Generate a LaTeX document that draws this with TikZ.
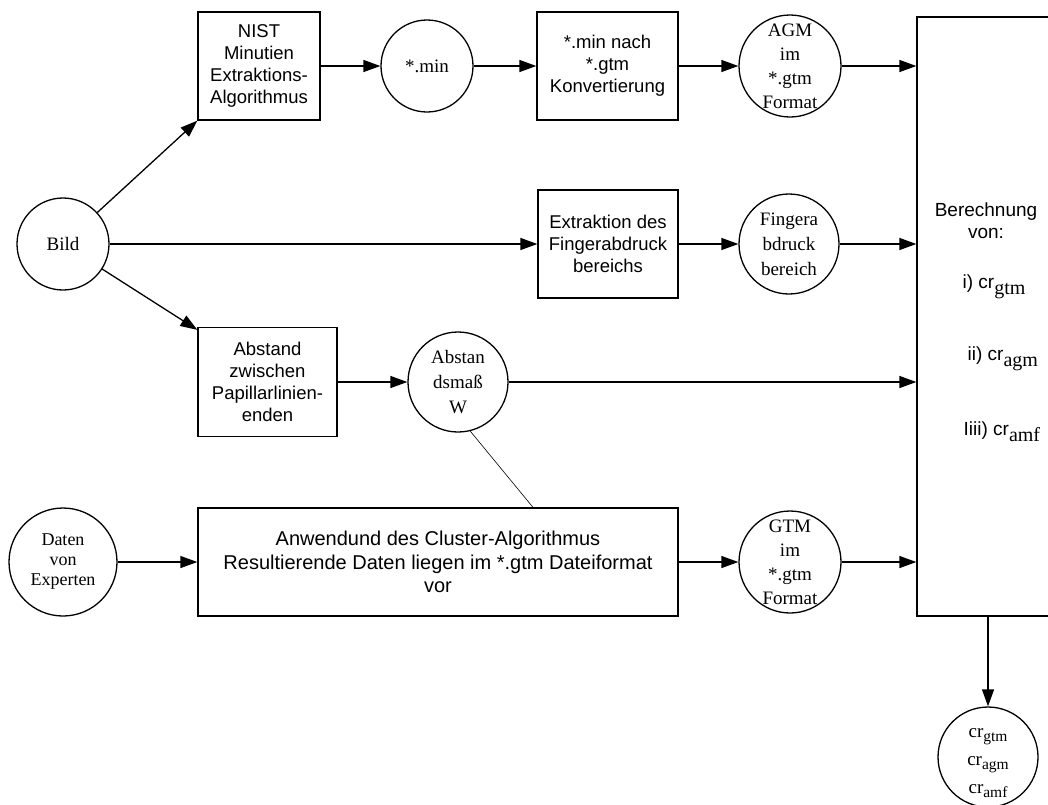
\documentclass[tikz,border=0pt]{standalone}
\usepackage{fontspec}
\setmainfont{Liberation Serif}
\setsansfont{Liberation Sans}
\usetikzlibrary{arrows.meta,calc}

% lowered serif subscripts used in the cr_xxx labels
\newcommand{\lowsub}[1]{\raisebox{-6pt}{\rmfamily\fontsize{20}{20}\selectfont #1}}
\newcommand{\smallsub}[1]{\raisebox{-4pt}{\rmfamily\fontsize{15.5}{15.5}\selectfont #1}}

\begin{document}
\begin{tikzpicture}[x=1pt,y=-1pt,
  line width=1.3pt,
  procbox/.style={draw, rectangle, inner sep=0pt, align=center,
    font=\sffamily\fontsize{18.5}{22}\selectfont},
  disc/.style={draw, circle, inner sep=0pt, minimum size=#1},
  disctext/.style={align=center, inner sep=0pt, font=\rmfamily\fontsize{19}{24}\selectfont},
  sidetext/.style={inner sep=0pt, font=\sffamily\fontsize{19}{22}\selectfont},
  arr/.style={-{Triangle[length=17pt,width=12pt]}},
  link/.style={line width=0.6pt}
]
\useasboundingbox (0,0) rectangle (1048,804);
\clip (0,0) rectangle (1048,804);

% sources
\node[disc=92pt, font=\rmfamily\fontsize{19}{23}\selectfont] (bild) at (63,244) {Bild};
\node[disc=108pt, label={[disctext, font=\rmfamily\fontsize{18}{20}\selectfont]center:{Daten\\von\\Experten}}] (daten) at (63,562) {};

% upper chain: minutiae extraction
\node[procbox, minimum width=122pt, minimum height=108pt] (nist) at (259,66) {NIST\\Minutien\\Extraktions-\\Algorithmus};
\node[disc=92pt, font=\rmfamily\fontsize{19}{23}\selectfont] (min) at (427,66) {*.min};
\node[procbox, minimum width=141pt, minimum height=108pt] (conv) at (607.5,66) {*.min nach\\*.gtm\\Konvertierung};
\node[disc=102pt, label={[disctext]center:{AGM\\im\\*.gtm\\Format}}] (agm) at (790,66) {};

% middle chain: fingerprint area
\node[procbox, minimum width=140pt, minimum height=108pt] (extr) at (608,244) {Extraktion des\\Fingerabdruck\\bereichs};
\node[disc=100pt, label={[disctext, font=\rmfamily\fontsize{19}{25}\selectfont]center:{Fingera\\bdruck\\bereich}}] (finger) at (789,244) {};

% ridge ending distance
\node[procbox, minimum width=139pt, minimum height=109pt] (abst) at (267.5,382) {Abstand\\zwischen\\Papillarlinien-\\enden};
\node[disc=100pt, label={[disctext, font=\rmfamily\fontsize{19}{25}\selectfont]center:{Abstan\\dsmaß\\W}}] (abm) at (458,382) {};

% expert data clustering
\node[procbox, minimum width=480pt, minimum height=108pt, font=\sffamily\fontsize{20}{23.5}\selectfont] (clus) at (438,562)
  {Anwendund des Cluster-Algorithmus\\Resultierende Daten liegen im *.gtm Dateiformat\\vor};
\node[disc=102pt, label={[disctext]center:{GTM\\im\\*.gtm\\Format}}] (gtm) at (790,562) {};

% computation block (open towards the right edge)
\node[draw, rectangle, inner sep=0pt, minimum width=142pt, minimum height=599pt] (berech) at (988,316.5) {};
\node[sidetext, align=center] (berechtitle) at (986,221) {Berechnung\\von:};
\node[sidetext, anchor=west] (itemone) at (962,287) {i) cr\lowsub{gtm}};
\node[sidetext, anchor=west] (itemtwo) at (967,359) {ii) cr\lowsub{agm}};
\node[sidetext, anchor=west] (itemthree) at (963,432) {Iiii) cr\lowsub{amf}};

% result
\node[disc=100pt, label={[disctext, yshift=-6pt, font=\rmfamily\fontsize{19}{28}\selectfont]center:{cr\smallsub{gtm}\\cr\smallsub{agm}\\cr\smallsub{amf}}}] (result) at (988,757) {};

% connectors
\draw[arr] (bild) -- (nist.south west);
\draw[arr] (bild) -- (extr.west);
\draw[arr] (bild) -- ([yshift=-3pt]abst.north west);
\draw[arr] (nist) -- (min);
\draw[arr] (min) -- (conv);
\draw[arr] (conv) -- (agm);
\draw[arr] (agm) -- (agm -| berech.west);
\draw[arr] (extr) -- (finger);
\draw[arr] (finger) -- (finger -| berech.west);
\draw[arr] (abst) -- (abm);
\draw[arr] (abm) -- (abm -| berech.west);
\draw[link] (abm.-76) -- ([xshift=95pt]clus.north);
\draw[arr] (daten) -- (clus);
\draw[arr] (clus) -- (gtm);
\draw[arr] (gtm) -- (gtm -| berech.west);
\draw[arr] (berech.south) -- (result);
\end{tikzpicture}
\end{document}
